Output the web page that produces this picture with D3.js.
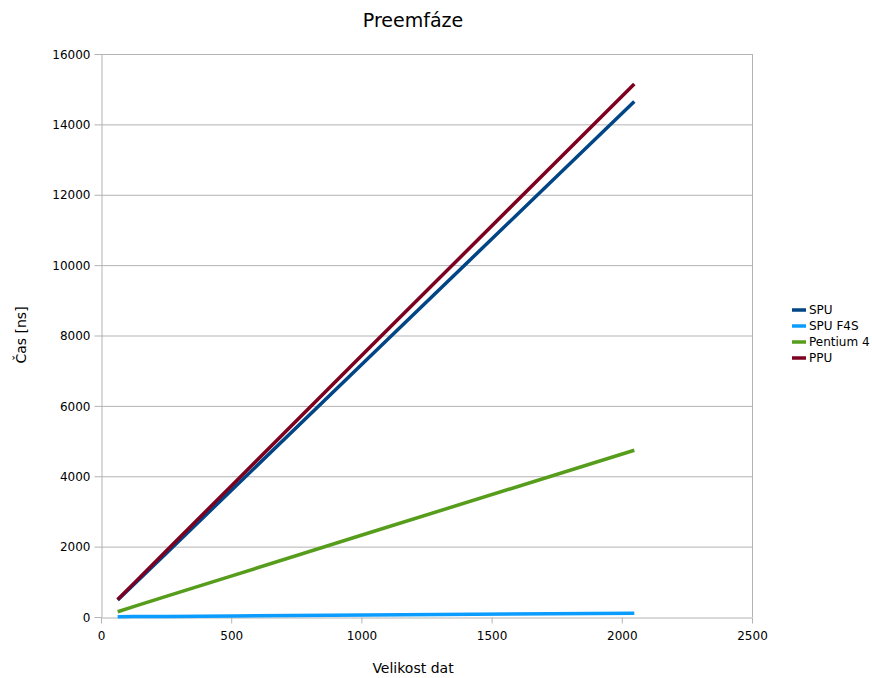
<!DOCTYPE html>
<html>
<head>
<meta charset="utf-8">
<script src="https://cdn.jsdelivr.net/npm/d3@7"></script>
<style>
  body { margin: 0; background: #fff; }
  svg text { font-family: "DejaVu Sans", Verdana, sans-serif; fill: #000; }
</style>
</head>
<body>
<svg id="chart" width="872" height="678"></svg>
<script>
// Data size (x) and measured time in ns for each implementation
const sizes = [64, 128, 256, 512, 1024, 2048];
const spu = [480, 940, 1850, 3680, 7340, 14650];
const spuF4S = [8, 11, 17, 30, 57, 110];
const pentium4 = [150, 300, 600, 1190, 2380, 4740];
const ppu = [500, 970, 1920, 3810, 7600, 15150];

const seriesNames = ["SPU", "SPU F4S", "Pentium 4", "PPU"];
const seriesValues = [spu, spuF4S, pentium4, ppu];
const seriesColors = ["#004586", "#0a9cff", "#579d1c", "#7e0021"];
// PPU is drawn last so it sits above SPU where they overlap
const drawOrder = [1, 2, 0, 3];

const xTicks = [0, 500, 1000, 1500, 2000, 2500];
const yTicks = [0, 2000, 4000, 6000, 8000, 10000, 12000, 14000, 16000];

const svg = d3.select("#chart");
const plot = { left: 101, right: 752, top: 54, bottom: 617 };

const x = d3.scaleLinear().domain([0, 2500]).range([plot.left, plot.right]);
const y = d3.scaleLinear().domain([0, 16000]).range([plot.bottom, plot.top]);

// Horizontal grid lines
svg.append("g")
  .selectAll("line")
  .data(yTicks.slice(1))
  .join("line")
  .attr("x1", plot.left).attr("x2", plot.right)
  .attr("y1", d => y(d) + 0.5).attr("y2", d => y(d) + 0.5)
  .attr("stroke", "#b3b3b3").attr("stroke-width", 1);

// Right border
svg.append("line")
  .attr("x1", plot.right + 0.5).attr("x2", plot.right + 0.5)
  .attr("y1", plot.top).attr("y2", plot.bottom)
  .attr("stroke", "#b3b3b3");

// Axes
const xAxis = svg.append("g")
  .attr("transform", `translate(0,${plot.bottom + 0.5})`)
  .call(d3.axisBottom(x).tickValues(xTicks).tickFormat(d3.format("d")).tickSize(6).tickSizeOuter(0));
const yAxis = svg.append("g")
  .attr("transform", `translate(${plot.left + 0.5},0)`)
  .call(d3.axisLeft(y).tickValues(yTicks).tickFormat(d3.format("d")).tickSize(7).tickSizeOuter(0));

[xAxis, yAxis].forEach(a => {
  a.select(".domain").attr("stroke", "#b3b3b3");
  a.selectAll(".tick line").attr("stroke", "#b3b3b3");
  a.selectAll(".tick text").attr("font-size", 12).attr("font-family", "DejaVu Sans, sans-serif").attr("fill", "#000");
});
xAxis.selectAll(".tick text").attr("dy", "1.1em").attr("y", 9);
yAxis.selectAll(".tick text").attr("x", -11).attr("dy", "0.35em");

// Series lines
const line = d3.line()
  .x((d, i) => x(sizes[i]))
  .y(d => y(d));

svg.append("g")
  .selectAll("path")
  .data(drawOrder)
  .join("path")
  .attr("d", i => line(seriesValues[i]))
  .attr("fill", "none")
  .attr("stroke", i => seriesColors[i])
  .attr("stroke-width", 3.5)
  .attr("stroke-linecap", "butt");

// Title and axis labels
svg.append("text")
  .attr("x", 413).attr("y", 27)
  .attr("text-anchor", "middle")
  .attr("font-size", 19)
  .text("Preemfáze");

svg.append("text")
  .attr("x", 413).attr("y", 673)
  .attr("text-anchor", "middle")
  .attr("font-size", 14)
  .text("Velikost dat");

svg.append("text")
  .attr("transform", "translate(26,335) rotate(-90)")
  .attr("text-anchor", "middle")
  .attr("font-size", 14)
  .text("Čas [ns]");

// Legend
const legend = svg.append("g").attr("transform", "translate(792,310)");
const items = legend.selectAll("g")
  .data(seriesNames)
  .join("g")
  .attr("transform", (d, i) => `translate(0,${i * 16})`);
items.append("line")
  .attr("x1", 0).attr("x2", 14)
  .attr("y1", 0).attr("y2", 0)
  .attr("stroke", (d, i) => seriesColors[i])
  .attr("stroke-width", 3.5);
items.append("text")
  .attr("x", 17).attr("y", 0).attr("dy", "0.35em")
  .attr("font-size", 12)
  .text(d => d);
</script>
</body>
</html>
